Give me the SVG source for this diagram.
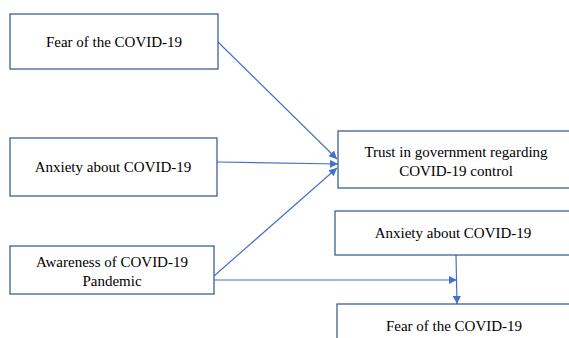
<svg xmlns="http://www.w3.org/2000/svg" width="569" height="338" viewBox="0 0 569 338">
<style>
.box{fill:#fff;stroke:#2F528F;stroke-width:1.2}
.t{font-family:"Liberation Serif","Times New Roman",serif;font-size:15px;fill:#000;text-anchor:middle}
.c{stroke:#4472C4;stroke-width:1.2;fill:none;marker-end:url(#ah)}
</style>
<defs>
<marker id="ah" viewBox="0 0 10 10" refX="10" refY="5" markerWidth="8" markerHeight="8" markerUnits="userSpaceOnUse" orient="auto">
<path d="M0,0 L10,5 L0,10 z" fill="#4472C4"/>
</marker>
</defs>
<rect width="569" height="338" fill="#fff"/>
<g id="connectors">
<line class="c" x1="218" y1="42" x2="337" y2="159"/>
<line class="c" x1="217" y1="162" x2="338" y2="164"/>
<line class="c" x1="214" y1="276" x2="337" y2="168"/>
<line class="c" x1="214" y1="280" x2="457" y2="280"/>
<line class="c" x1="456" y1="255" x2="457" y2="304"/>
</g>
<g id="fear1">
<rect class="box" x="10" y="14" width="208" height="55"/>
<text class="t" x="114" y="47">Fear of the COVID-19</text>
</g>
<g id="anxiety1">
<rect class="box" x="10" y="138" width="207" height="58"/>
<text class="t" x="113" y="172">Anxiety about COVID-19</text>
</g>
<g id="awareness">
<rect class="box" x="10" y="246" width="204" height="48"/>
<text class="t" x="112" y="267">Awareness of COVID-19</text>
<text class="t" x="112" y="286">Pandemic</text>
</g>
<g id="trust">
<rect class="box" x="338" y="131" width="260" height="57"/>
<text class="t" x="456" y="157">Trust in government regarding</text>
<text class="t" x="456" y="176">COVID-19 control</text>
</g>
<g id="anxiety2">
<rect class="box" x="335" y="211" width="260" height="44"/>
<text class="t" x="453" y="238">Anxiety about COVID-19</text>
</g>
<g id="fear2">
<rect class="box" x="337" y="304" width="260" height="60"/>
<text class="t" x="454" y="331">Fear of the COVID-19</text>
</g>
</svg>
